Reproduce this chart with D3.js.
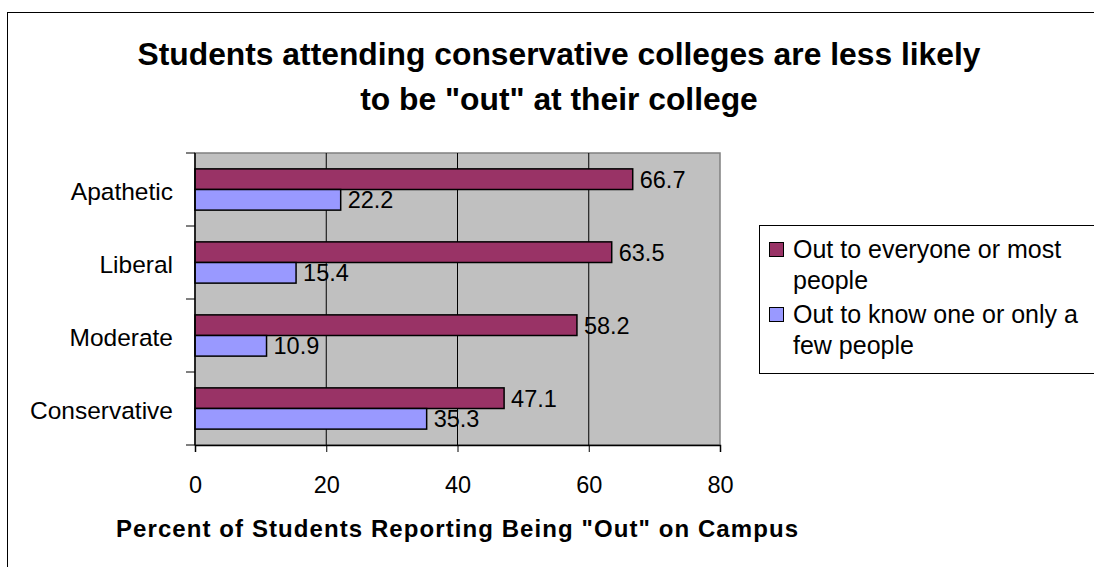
<!DOCTYPE html>
<html>
<head>
<meta charset="utf-8">
<script src="https://cdn.jsdelivr.net/npm/d3@7"></script>
<style>
  html, body { margin: 0; padding: 0; background: #fff; }
  svg { display: block; font-family: Arial, "Liberation Sans", sans-serif; }
</style>
</head>
<body>
<svg id="chart" width="1094" height="567"></svg>
<script>
// Campus climate categories, top to bottom
const categories = ["Apathetic", "Liberal", "Moderate", "Conservative"];
// Percent out to everyone or most people
const outToMost = [66.7, 63.5, 58.2, 47.1];
// Percent out to only one or a few people
const outToFew = [22.2, 15.4, 10.9, 35.3];
const xTicks = [0, 20, 40, 60, 80];

const colors = ["#993366", "#9999ff"];
const FONT = "Arial, 'Liberation Sans', sans-serif";
const svg = d3.select("#chart");

// outer chart frame
svg.append("rect")
  .attr("x", 7.5).attr("y", 12.5)
  .attr("width", 1100).attr("height", 600)
  .attr("fill", "#fff").attr("stroke", "#000").attr("stroke-width", 1);

// title
const title = svg.append("text")
  .attr("text-anchor", "middle")
  .attr("font-weight", "bold")
  .attr("font-size", 31.8)
  .attr("fill", "#000");
title.append("tspan").attr("x", 559).attr("y", 65)
  .text("Students attending conservative colleges are less likely");
title.append("tspan").attr("x", 559).attr("y", 110)
  .text("to be \"out\" at their college");

const plot = { left: 195, top: 153, right: 720, bottom: 445 };

const x = d3.scaleLinear().domain([0, 80]).range([plot.left, plot.right]);
const y = d3.scaleBand().domain(categories).range([plot.top, plot.bottom]);
const inner = d3.scaleBand().domain([0, 1])
  .range([0, y.bandwidth()]).paddingOuter(0.77).paddingInner(0);

// plot background
svg.append("rect")
  .attr("x", plot.left).attr("y", plot.top)
  .attr("width", plot.right - plot.left).attr("height", plot.bottom - plot.top)
  .attr("fill", "#c0c0c0").attr("stroke", "#808080").attr("stroke-width", 1.5);

// vertical gridlines
svg.append("g").selectAll("line")
  .data(xTicks.slice(1, -1))
  .join("line")
  .attr("x1", d => x(d)).attr("x2", d => x(d))
  .attr("y1", plot.top).attr("y2", plot.bottom)
  .attr("stroke", "#000").attr("stroke-width", 1);

// bars
const rows = categories.map((c, i) => ({ cat: c, vals: [outToMost[i], outToFew[i]] }));
const groups = svg.append("g").selectAll("g")
  .data(rows).join("g")
  .attr("transform", d => `translate(0,${y(d.cat)})`);

groups.selectAll("rect")
  .data(d => d.vals.map((v, s) => ({ v, s })))
  .join("rect")
  .attr("x", x(0))
  .attr("y", d => inner(d.s))
  .attr("width", d => x(d.v) - x(0))
  .attr("height", inner.bandwidth())
  .attr("fill", d => colors[d.s])
  .attr("stroke", "#000").attr("stroke-width", 1.5);

// value labels
groups.selectAll("text")
  .data(d => d.vals.map((v, s) => ({ v, s })))
  .join("text")
  .attr("x", d => x(d.v) + 7)
  .attr("y", d => inner(d.s) + inner.bandwidth() / 2 + 8.5)
  .attr("font-size", 23.5)
  .attr("fill", "#000")
  .text(d => d.v.toFixed(1));

// x axis
const xAxis = svg.append("g")
  .attr("transform", `translate(0,${plot.bottom})`)
  .call(d3.axisBottom(x).tickValues(xTicks).tickSize(7).tickPadding(24).tickFormat(d3.format("d")));
xAxis.select(".domain").attr("stroke", "#000").attr("stroke-width", 1.5);
xAxis.selectAll(".tick line").attr("stroke", "#000");
xAxis.selectAll("text").attr("font-size", 23.5).attr("fill", "#000")
  .attr("font-family", FONT);

// y axis with ticks at band boundaries
const yAxis = svg.append("g").attr("transform", `translate(${plot.left},0)`);
yAxis.append("line")
  .attr("x1", 0).attr("x2", 0).attr("y1", plot.top).attr("y2", plot.bottom)
  .attr("stroke", "#000").attr("stroke-width", 1.5);
const bounds = categories.map(c => y(c)).concat([plot.bottom]);
yAxis.selectAll("line.tk").data(bounds).join("line")
  .attr("class", "tk")
  .attr("x1", -9).attr("x2", 0)
  .attr("y1", d => d).attr("y2", d => d)
  .attr("stroke", "#000").attr("stroke-width", 1);
yAxis.selectAll("text").data(categories).join("text")
  .attr("x", -22)
  .attr("y", d => y(d) + y.bandwidth() / 2 + 10)
  .attr("text-anchor", "end")
  .attr("font-size", 24.5)
  .attr("fill", "#000")
  .text(d => d);

// axis title
svg.append("text")
  .attr("x", 116).attr("y", 537)
  .attr("font-weight", "bold")
  .attr("font-size", 24)
  .attr("textLength", 682)
  .attr("lengthAdjust", "spacing")
  .attr("fill", "#000")
  .text("Percent of Students Reporting Being \"Out\" on Campus");

// legend
const legend = svg.append("g");
legend.append("rect")
  .attr("x", 759.5).attr("y", 225.5)
  .attr("width", 400).attr("height", 148)
  .attr("fill", "#fff").attr("stroke", "#000").attr("stroke-width", 1);
const legendLines = [
  ["Out to everyone or most", "people"],
  ["Out to know one or only a", "few people"]
];
const legendBase = [258, 323];
legendLines.forEach((lines, i) => {
  legend.append("rect")
    .attr("x", 769.5).attr("y", legendBase[i] - 15.5)
    .attr("width", 14).attr("height", 14)
    .attr("fill", colors[i]).attr("stroke", "#000").attr("stroke-width", 1);
  const t = legend.append("text").attr("font-size", 25).attr("fill", "#000");
  lines.forEach((ln, j) => {
    t.append("tspan").attr("x", 793).attr("y", legendBase[i] + j * 31).text(ln);
  });
});
</script>
</body>
</html>
